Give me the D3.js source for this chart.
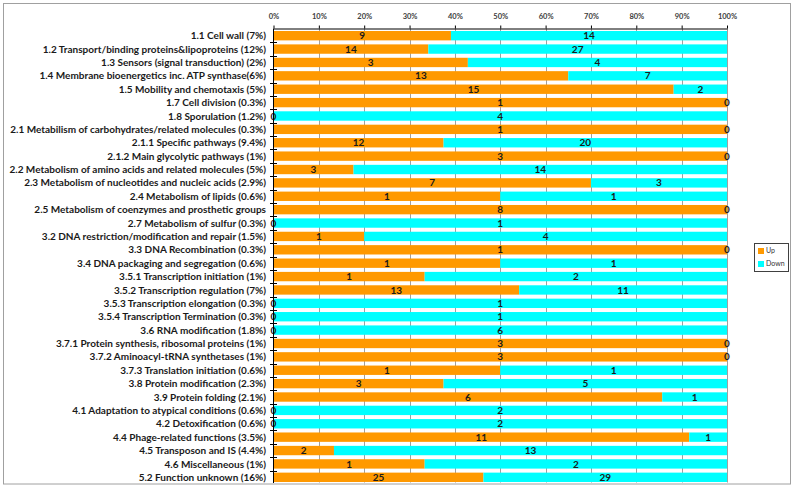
<!DOCTYPE html>
<html><head><meta charset="utf-8">
<script src="https://cdn.jsdelivr.net/npm/d3@7"></script>
<style>body{margin:0;background:#fff;}svg{display:block;}</style>
</head><body>
<script>
const categories = [
"1.1 Cell wall (7%)",
"1.2 Transport/binding proteins&lipoproteins (12%)",
"1.3 Sensors (signal transduction) (2%)",
"1.4 Membrane bioenergetics inc. ATP synthase(6%)",
"1.5 Mobility and chemotaxis (5%)",
"1.7 Cell division (0.3%)",
"1.8 Sporulation (1.2%)",
"2.1 Metabilism of carbohydrates/related molecules (0.3%)",
"2.1.1 Specific pathways (9.4%)",
"2.1.2 Main glycolytic pathways (1%)",
"2.2 Metabolism of amino acids and related molecules (5%)",
"2.3 Metabolism of nucleotides and nucleic acids (2.9%)",
"2.4 Metabolism of lipids (0.6%)",
"2.5 Metabolism of coenzymes and prosthetic groups",
"2.7 Metabolism of sulfur (0.3%)",
"3.2 DNA restriction/modification and repair (1.5%)",
"3.3 DNA Recombination (0.3%)",
"3.4 DNA packaging and segregation (0.6%)",
"3.5.1 Transcription initiation (1%)",
"3.5.2 Transcription regulation (7%)",
"3.5.3 Transcription elongation (0.3%)",
"3.5.4 Transcription Termination (0.3%)",
"3.6 RNA modification (1.8%)",
"3.7.1 Protein synthesis, ribosomal proteins (1%)",
"3.7.2 Aminoacyl-tRNA synthetases (1%)",
"3.7.3 Translation initiation (0.6%)",
"3.8 Protein modification (2.3%)",
"3.9 Protein folding (2.1%)",
"4.1 Adaptation to atypical conditions (0.6%)",
"4.2 Detoxification (0.6%)",
"4.4 Phage-related functions (3.5%)",
"4.5 Transposon and IS (4.4%)",
"4.6 Miscellaneous (1%)",
"5.2 Function unknown (16%)"
];
const upValues   = [9,14,3,13,15,1,0,1,12,3,3,7,1,8,0,1,1,1,1,13,0,0,0,3,3,1,3,6,0,0,11,2,1,25];
const downValues = [14,27,4,7,2,0,4,0,20,0,14,3,1,0,1,4,0,1,2,11,1,1,6,0,0,1,5,1,2,2,1,13,2,29];
const seriesNames = ["Up","Down"];
const colors = ["#FF9900","#00FFFF"];
const tickValues = [0,0.1,0.2,0.3,0.4,0.5,0.6,0.7,0.8,0.9,1];

const W=797,H=488;
const svg=d3.select("body").append("svg").attr("width",W).attr("height",H);
svg.append("rect").attr("x",3.5).attr("y",3.5).attr("width",787).attr("height",480.5)
  .attr("fill","#fff").attr("stroke","#a0a0a0").attr("stroke-width",1);

const top0=28.5, bot0=483.5;
const x=d3.scaleLinear().domain([0,1]).range([273.5,727]);
const y=d3.scaleBand().domain(categories).range([29,484]).paddingInner(0.3).paddingOuter(0.15);

// gridlines
svg.append("g").selectAll("line").data(tickValues.slice(1)).join("line")
  .attr("x1",d=>Math.round(x(d))+0.5).attr("x2",d=>Math.round(x(d))+0.5)
  .attr("y1",top0).attr("y2",bot0-1).attr("stroke","#a0a0a0").attr("stroke-width",1);

const rows=categories.map((c,i)=>{const t=upValues[i]+downValues[i];return {c,up:upValues[i],down:downValues[i],t};});
const font="Lato, 'Open Sans', sans-serif";

// bars
rows.forEach(r=>{
  const u=r.up/r.t;
  svg.append("rect").attr("x",x(0)).attr("y",y(r.c)).attr("width",x(u)-x(0)).attr("height",y.bandwidth()).attr("fill",colors[0]);
  svg.append("rect").attr("x",x(u)).attr("y",y(r.c)).attr("width",x(1)-x(u)).attr("height",y.bandwidth()).attr("fill",colors[1]);
  const cy=y(r.c)+y.bandwidth()/2;
  svg.append("text").attr("x",x(u/2)).attr("y",cy).attr("dy","0.36em").attr("text-anchor","middle")
    .attr("font-family",font).attr("font-size",10).attr("font-weight",700).attr("fill","#1a1a1a").text(r.up);
  svg.append("text").attr("x",x(u+(1-u)/2)).attr("y",cy).attr("dy","0.36em").attr("text-anchor","middle")
    .attr("font-family",font).attr("font-size",10).attr("font-weight",700).attr("fill","#1a1a1a").text(r.down);
});

// top axis
const ax=svg.append("g").attr("transform","translate(0,"+top0+")")
  .call(d3.axisTop(x).tickValues(tickValues).tickFormat(d3.format(".0%")).tickSize(3).tickSizeOuter(0));
ax.select(".domain").attr("stroke","#000");
ax.selectAll(".tick line").attr("stroke","#000");
ax.selectAll("text").attr("font-family",font).attr("font-size",7.5).attr("font-weight",700).attr("fill","#404040").attr("dy","-0.45em");

// left category axis
const yEdge=d3.scaleLinear().domain([0,categories.length]).range([29,484]);
svg.append("line").attr("x1",273.5).attr("x2",273.5).attr("y1",top0).attr("y2",bot0-0.5).attr("stroke","#000");
svg.append("g").selectAll("line").data(d3.range(1,categories.length)).join("line")
  .attr("x1",270).attr("x2",277).attr("y1",d=>Math.round(yEdge(d))+0.5).attr("y2",d=>Math.round(yEdge(d))+0.5).attr("stroke","#000");
svg.append("g").selectAll("text").data(categories).join("text")
  .attr("x",266).attr("y",d=>y(d)+y.bandwidth()/2).attr("dy","0.36em").attr("text-anchor","end")
  .attr("font-family",font).attr("font-size",10).attr("font-weight",700).attr("fill","#1a1a1a").text(d=>d);

// legend
const lg=svg.append("g");
lg.append("rect").attr("x",754.5).attr("y",243.5).attr("width",34).attr("height",28).attr("fill","#fff").attr("stroke","#404040");
seriesNames.forEach((n,i)=>{
  lg.append("rect").attr("x",758).attr("y",248+i*13).attr("width",6).attr("height",6).attr("fill",colors[i]);
  lg.append("text").attr("x",766).attr("y",251+i*13).attr("dy","0.35em").attr("font-family",font).attr("font-size",7).attr("fill","#333").text(n);
});
</script>
</body></html>
